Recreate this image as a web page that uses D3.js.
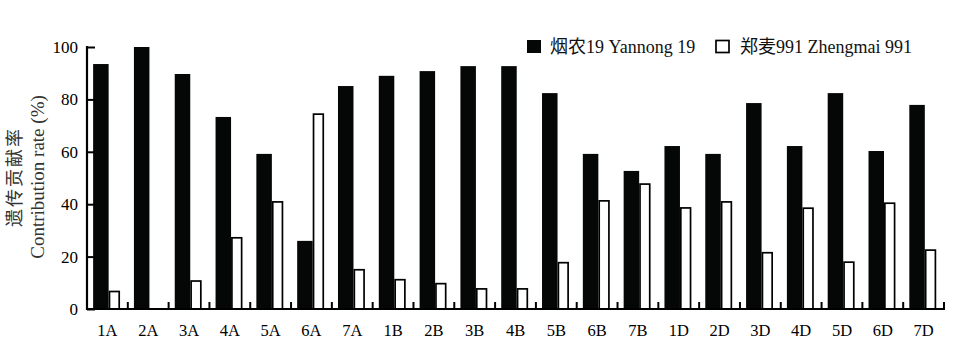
<!DOCTYPE html>
<html><head><meta charset="utf-8">
<script src="https://cdn.jsdelivr.net/npm/d3@7"></script>
<style>
body{margin:0;background:#fff;}
text{font-family:"Liberation Serif","Noto Sans CJK SC",serif;}
</style></head>
<body><svg id="c" width="963" height="355"></svg>
<script>
const categories = ["1A","2A","3A","4A","5A","6A","7A","1B","2B","3B","4B","5B","6B","7B","1D","2D","3D","4D","5D","6D","7D"];
const yannong19 = [93.5,100,89.7,73.3,59.2,26,85.1,89,90.8,92.7,92.7,82.4,59.2,52.7,62.2,59.2,78.6,62.2,82.4,60.3,77.9];
const zhengmai991 = [7,0,11,27.5,41.2,74.7,15.3,11.5,10,8,8,18,41.6,48,38.9,41.2,21.8,38.8,18.2,40.7,22.8];
const yTicks = [0,20,40,60,80,100];
const seriesNames = ["烟农19 Yannong 19","郑麦991 Zhengmai 991"];

const svg = d3.select("#c");
const L = 87, R = 944, T = 47, B = 309;
const x = d3.scaleBand().domain(categories).range([L, R]).padding(0);
const y = d3.scaleLinear().domain([0,100]).range([B, T]);
const bw = x.bandwidth();

// bars
svg.append("g").selectAll("rect").data(categories).join("rect")
  .attr("x", (d)=>x(d) + bw*0.15)
  .attr("width", bw*0.38)
  .attr("y", (d,i)=>y(yannong19[i]))
  .attr("height", (d,i)=>B - y(yannong19[i]))
  .attr("fill", "#050606");

const sw = 1.7;
svg.append("g").selectAll("rect").data(categories.filter((d,i)=>zhengmai991[i]>0)).join("rect")
  .attr("x", (d)=>x(d) + bw*0.53 + sw/2)
  .attr("width", bw*0.28 - sw)
  .attr("y", (d)=>y(zhengmai991[categories.indexOf(d)]) + sw/2)
  .attr("height", (d)=>B - y(zhengmai991[categories.indexOf(d)]) - sw/2)
  .attr("fill", "#fff").attr("stroke", "#000").attr("stroke-width", sw);

// y axis
const ya = svg.append("g").attr("transform", `translate(${L},0)`)
  .call(d3.axisLeft(y).tickValues(yTicks).tickSizeInner(-8).tickSizeOuter(0).tickPadding(9));
ya.select(".domain").remove();
ya.selectAll(".tick line").attr("stroke","#000").attr("stroke-width",2);
ya.selectAll(".tick text").attr("font-size",17).attr("fill","#000")
  .attr("font-family",'"Liberation Serif",serif');
svg.append("line").attr("x1",L).attr("x2",L).attr("y1",T-1).attr("y2",B+1)
  .attr("stroke","#000").attr("stroke-width",2.2);

// x axis
const xa = svg.append("g").attr("transform", `translate(0,${B})`)
  .call(d3.axisBottom(x).tickSize(0).tickPadding(15));
xa.select(".domain").remove();
xa.selectAll(".tick text").attr("font-size",16.5).attr("fill","#000")
  .attr("font-family",'"Liberation Serif",serif');
svg.append("g").selectAll("line").data(categories).join("line")
  .attr("x1", d=>x(d)+bw).attr("x2", d=>x(d)+bw)
  .attr("y1", B).attr("y2", B-7)
  .attr("stroke","#000").attr("stroke-width",2);
svg.append("line").attr("x1",L).attr("x2",R+1).attr("y1",B).attr("y2",B)
  .attr("stroke","#000").attr("stroke-width",2.2);

// y title
const yt = svg.append("text").attr("transform","translate(21,177) rotate(-90)")
  .attr("text-anchor","middle").attr("fill","#333");
yt.append("tspan").attr("x",0).attr("y",0).attr("font-size",18).attr("letter-spacing",2)
  .attr("font-family",'"Noto Sans CJK SC",sans-serif').text("遗传贡献率");
yt.append("tspan").attr("x",0).attr("y",23).attr("font-size",19).text("Contribution rate (%)");

// legend
const leg = svg.append("g");
leg.append("rect").attr("x",527).attr("y",40).attr("width",14).attr("height",13).attr("fill","#050606");
leg.append("text").attr("x",550).attr("y",53).attr("font-size",18).attr("fill","#111").text(seriesNames[0]);
leg.append("rect").attr("x",716).attr("y",40.5).attr("width",13).attr("height",12)
  .attr("fill","#fff").attr("stroke","#000").attr("stroke-width",1.7);
leg.append("text").attr("x",740).attr("y",53).attr("font-size",18).attr("fill","#111").text(seriesNames[1]);
</script></body></html>
